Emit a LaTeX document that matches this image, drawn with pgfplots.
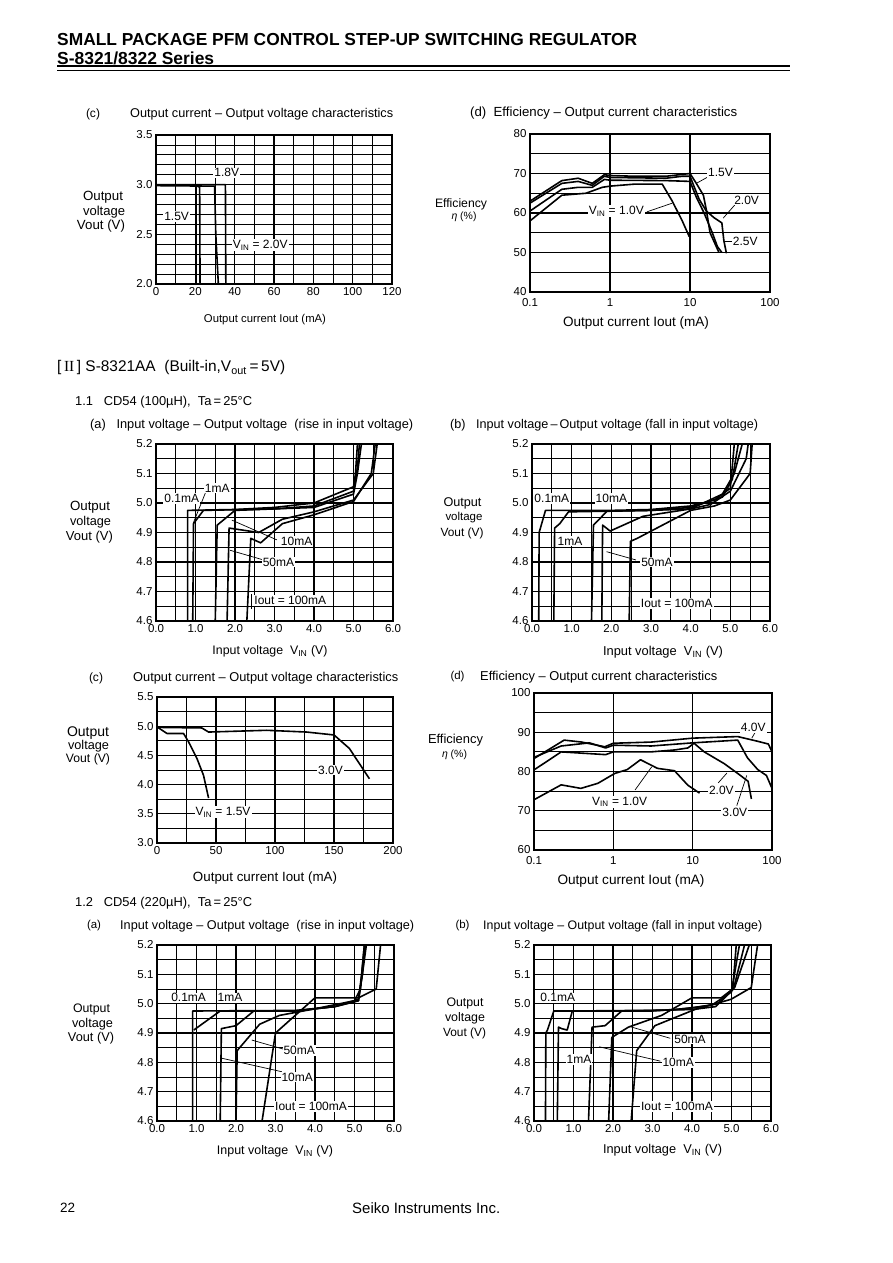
\documentclass[border=0pt]{standalone}
\usepackage{fontspec}
\setmainfont{Liberation Sans}
\newfontfamily\seriffont{Liberation Serif}
\usepackage{graphicx}
\usepackage{pgfplots}
\pgfplotsset{compat=1.18}

\newcommand\tx[5]{\node[anchor=#1,inner sep=0pt] at (#2pt,-#3pt) {\resizebox{#4pt}{!}{#5}};}
\newcommand\tickf{\fontsize{11.5}{13}\selectfont}
\newcommand\lblf{\fontsize{12}{13}\selectfont}

\tikzset{cv/.style={black,solid,line width=1.6pt,mark=none,line join=round},
  lb/.style={fill=white,inner sep=1pt,font=\lblf}, ld/.style={black,line width=0.7pt}}

\pgfplotsset{
 ds/.style={scale only axis, anchor=north west, clip mode=individual,
  axis line style={line width=1.3pt},
  tick style={draw=none},
  major grid style={line width=1.05pt,black},
  minor grid style={line width=0.8pt,black},
  tick label style={font=\tickf},
  /pgf/number format/assume math mode=true,
 },
 vv/.style={xmin=0,xmax=6,ymin=4.6,ymax=5.2,
  xtick={0,1,2,3,4,5,6}, ytick={4.6,4.7,4.8,4.9,5.0,5.1,5.2},
  minor x tick num=1, minor y tick num=1, grid=both,
  xticklabel style={/pgf/number format/.cd,fixed,fixed zerofill,precision=1},
  yticklabel style={/pgf/number format/.cd,fixed,fixed zerofill,precision=1},
 },
 logstuff/.style={xtick={0.1,1,10,100}, xticklabels={0.1,1,10,100},
  xticklabel style={yshift=-2.5pt, text height=8.5pt, text depth=0pt, anchor=north},
  xmajorgrids, ymajorgrids, yminorgrids, minor y tick num=1},
}

\begin{document}
\begin{tikzpicture}
\fill[white] (0,0) rectangle (892pt,-1263pt);
\useasboundingbox (0,0) rectangle (892pt,-1263pt);

% ---------- header ----------
\tx{west}{57}{40}{580}{\bfseries SMALL PACKAGE PFM CONTROL STEP-UP SWITCHING REGULATOR}
\tx{west}{57}{58}{157}{\bfseries S-8321/8322 Series}
\draw[line width=2pt] (57pt,-66.5pt) -- (790pt,-66.5pt);
\draw[line width=0.7pt] (57pt,-70pt) -- (790pt,-70pt);

% ---------- chart (c) top ----------
\tx{center}{93}{114}{14}{(c)}
\tx{west}{130}{114}{263}{Output current -- Output voltage characteristics}
\tx{center}{103}{197}{40}{Output}
\tx{center}{104}{212}{42}{voltage}
\tx{center}{101}{226}{48}{Vout (V)}
\tx{center}{265}{320}{122}{Output current Iout (mA)}
\begin{axis}[ds, at={(156pt,-135pt)}, width=236pt, height=149pt,
  xmin=0,xmax=120,ymin=2,ymax=3.5, xtick={0,20,40,60,80,100,120}, ytick={2,2.5,3,3.5},
  minor x tick num=1, minor y tick num=4, grid=both,
  yticklabel style={/pgf/number format/.cd,fixed,fixed zerofill,precision=1}]
\addplot[cv] coordinates {(0,3.0)(20.5,3.0)(20.5,2.0)};
\addplot[cv] coordinates {(20.5,2.99)(22.2,2.975)(22.4,2.0)};
\addplot[cv] coordinates {(0,2.99)(29.8,2.985)(30.4,2.5)(31.7,2.0)};
\addplot[cv] coordinates {(0,3.0)(35.3,3.0)(35.5,2.0)};
\node[lb] at (axis cs:36,3.12) {1.8V};
\node[lb] at (axis cs:10.5,2.68) {1.5V};
\node[lb] at (axis cs:53,2.39) {V\textsubscript{IN} = 2.0V};
\end{axis}

% ---------- chart (d) top ----------
\tx{west}{470}{113}{267}{(d)\ \ Efficiency -- Output current characteristics}
\tx{center}{461}{204}{52}{Efficiency}
\tx{center}{464}{217}{25}{\textit{η} (\%)}
\tx{center}{636}{323}{146}{Output current Iout (mA)}
\begin{axis}[ds, xmode=log, logstuff, at={(530pt,-134pt)}, width=240pt, height=158pt,
  xmin=0.1,xmax=100,ymin=40,ymax=80, ytick={40,50,60,70,80}]
\addplot[cv] coordinates {(0.1,63)(0.25,68.2)(0.4,68.8)(0.6,67.5)(0.85,69.7)(1,69.5)(2,69.3)(5,69.3)(10,70)(12,67.5)(14.7,64.5)(16,60.8)(17.8,55)(23,50)};
\addplot[cv] coordinates {(0.1,62.5)(0.25,67.5)(0.4,68)(0.6,67)(0.85,69.3)(1,69)(5,68.8)(8,69.3)(10,69.3)(13,63.5)(16,60.5)(20,58.8)(25,57.5)(26.5,53)(28.5,49.8)};
\addplot[cv] coordinates {(0.1,60.5)(0.25,66)(0.4,66.5)(0.6,66.5)(0.85,68.5)(1,68.3)(5,68.2)(10,68)(12,64)(15,60)(19,55)(22,51.5)(25,50)};
\addplot[cv] coordinates {(0.1,58)(0.25,64.5)(0.5,65)(0.8,66.5)(1,66.8)(2,67.3)(4.5,67.3)(6,63)(8,58)(9.8,54)};
\draw[ld] (axis cs:12,67.5) -- (axis cs:20,70);
\draw[ld] (axis cs:26,58.7) -- (axis cs:38,62.5);
\draw[ld] (axis cs:27,52.7) -- (axis cs:35,52.7);
\draw[ld] (axis cs:2.9,60.3) -- (axis cs:6,62.5);
\node[lb] at (axis cs:24,70.3) {1.5V};
\node[lb] at (axis cs:51,63.3) {2.0V};
\node[lb] at (axis cs:49,52.7) {2.5V};
\node[lb] at (axis cs:1.2,60.5) {V\textsubscript{IN} = 1.0V};
\end{axis}

% ---------- section II ----------
\tx{west}{57}{368}{228}{[\,{\seriffont II}\,] S-8321AA\ \ (Built-in,V\textsubscript{out}\,=\,5V)}
\tx{west}{75}{402}{177}{1.1\ \ \ CD54 (100µH),\ \ Ta\,=\,25°C}
\tx{west}{90}{425}{323}{(a)\ \ \ Input voltage -- Output voltage\ \ (rise in input voltage)}
\tx{west}{450}{425}{308}{(b)\ \ \ Input voltage\,--\,Output voltage (fall in input voltage)}

% ---------- 1.1 (a) ----------
\tx{center}{90}{507}{40}{Output}
\tx{center}{90.5}{522}{41}{voltage}
\tx{center}{89.5}{537}{47}{Vout (V)}
\tx{center}{270}{651}{115}{Input voltage\ \ V\textsubscript{IN} (V)}
\begin{axis}[ds, vv, at={(156pt,-444pt)}, width=237pt, height=177pt]
\addplot[cv] coordinates {(0.8,4.6)(0.8,4.975)(2.0,4.978)(3.0,4.985)(4.0,5.0)(5.0,5.055)(5.05,5.1)(5.1,5.2)};
\addplot[cv] coordinates {(0.93,4.6)(0.95,4.93)(1.2,4.975)(3.0,4.98)(4.0,4.99)(5.0,5.04)(5.1,5.12)(5.15,5.2)};
\addplot[cv] coordinates {(1.5,4.6)(1.55,4.925)(2.0,4.975)(3.0,4.98)(4.0,4.985)(5.0,5.03)(5.1,5.1)(5.2,5.2)};
\addplot[cv] coordinates {(1.8,4.6)(1.85,4.915)(2.6,4.9)(3.2,4.945)(4.0,4.97)(5.0,5.01)(5.5,5.1)(5.6,5.2)};
\addplot[cv] coordinates {(2.3,4.6)(2.4,4.88)(2.65,4.865)(3.2,4.93)(4.0,4.96)(5.0,5.005)(5.45,5.1)(5.55,5.2)};
\draw[ld] (axis cs:1.28,5.044) -- (axis cs:0.94,4.931);
\draw[ld] (axis cs:1.92,4.942) -- (axis cs:3.06,4.875);
\draw[ld] (axis cs:1.87,4.84) -- (axis cs:2.72,4.807);
\draw[ld] (axis cs:2.42,4.69) -- (axis cs:2.42,4.64);
\node[lb] at (axis cs:0.65,5.015) {0.1mA};
\node[lb] at (axis cs:1.55,5.05) {1mA};
\node[lb] at (axis cs:3.56,4.87) {10mA};
\node[lb] at (axis cs:3.1,4.80) {50mA};
\node[lb] at (axis cs:3.4,4.67) {Iout = 100mA};
\end{axis}

% ---------- 1.1 (b) ----------
\tx{center}{462.5}{503}{38}{Output}
\tx{center}{464}{518}{37}{voltage}
\tx{center}{462}{533}{43}{Vout (V)}
\tx{center}{663}{652}{120}{Input voltage\ \ V\textsubscript{IN} (V)}
\begin{axis}[ds, vv, at={(532pt,-444pt)}, width=238pt, height=177pt]
\addplot[cv] coordinates {(0.17,4.6)(0.18,4.9)(0.34,4.975)(2.0,4.975)(3.0,4.978)(4.0,4.99)(4.6,5.01)(5.0,5.05)(5.1,5.2)};
\addplot[cv] coordinates {(0.55,4.6)(0.57,4.915)(0.7,4.93)(0.92,4.97)(3.0,4.975)(4.0,4.985)(4.8,5.02)(5.05,5.08)(5.2,5.2)};
\addplot[cv] coordinates {(1.5,4.6)(1.55,4.925)(1.89,4.972)(3.0,4.975)(4.0,4.98)(4.8,5.03)(5.1,5.1)(5.3,5.2)};
\addplot[cv] coordinates {(1.76,4.6)(1.78,4.925)(1.97,4.905)(2.8,4.955)(4.0,4.98)(4.5,4.995)(5.0,5.04)(5.4,5.15)(5.45,5.2)};
\addplot[cv] coordinates {(2.45,4.6)(2.48,4.87)(2.65,4.88)(4.0,4.975)(4.6,4.99)(5.0,5.01)(5.5,5.1)(5.55,5.2)};
\draw[ld] (axis cs:1.88,4.835) -- (axis cs:2.62,4.807);
\draw[ld] (axis cs:2.51,4.69) -- (axis cs:2.51,4.64);
\node[lb] at (axis cs:0.5,5.015) {0.1mA};
\node[lb] at (axis cs:2.0,5.015) {10mA};
\node[lb] at (axis cs:0.96,4.87) {1mA};
\node[lb] at (axis cs:3.15,4.80) {50mA};
\node[lb] at (axis cs:3.65,4.66) {Iout = 100mA};
\end{axis}

% ---------- 1.1 (c) ----------
\tx{center}{96}{678}{14}{(c)}
\tx{west}{133}{678}{265}{Output current -- Output voltage characteristics}
\tx{center}{88}{733}{42}{Output}
\tx{center}{88.5}{746}{41}{voltage}
\tx{center}{88}{759}{44}{Vout (V)}
\tx{center}{265}{878}{144}{Output current Iout (mA)}
\begin{axis}[ds, at={(157pt,-697pt)}, width=236pt, height=146pt,
  xmin=0,xmax=200,ymin=3,ymax=5.5, xtick={0,50,100,150,200}, ytick={3,3.5,4,4.5,5,5.5},
  minor x tick num=1, minor y tick num=1, grid=both,
  yticklabel style={/pgf/number format/.cd,fixed,fixed zerofill,precision=1}]
\addplot[cv] coordinates {(0,4.99)(8.5,4.875)(22.5,4.875)(26.8,4.73)(33.8,4.45)(39.4,4.16)(43.7,3.77)};
\addplot[cv] coordinates {(0,4.98)(38,4.97)(43.7,4.9)(93,4.93)(126.8,4.9)(150,4.85)(163,4.62)(180,4.1)};
\node[lb] at (axis cs:147,4.25) {3.0V};
\node[lb] at (axis cs:56,3.53) {V\textsubscript{IN} = 1.5V};
\end{axis}

% ---------- 1.1 (d) ----------
\tx{center}{457.5}{677}{14}{(d)}
\tx{west}{480}{677}{237}{Efficiency -- Output current characteristics}
\tx{center}{455.5}{740}{55}{Efficiency}
\tx{center}{454.5}{755}{25}{\textit{η} (\%)}
\tx{center}{631}{881}{147}{Output current Iout (mA)}
\begin{axis}[ds, xmode=log, logstuff, at={(534pt,-693pt)}, width=238pt, height=157pt,
  xmin=0.1,xmax=100,ymin=60,ymax=100, ytick={60,70,80,90,100}]
\addplot[cv] coordinates {(0.1,72.8)(0.22,76.6)(0.39,75.7)(0.64,77.0)(1.04,79.5)(1.5,80.5)(2.2,83)(3.6,80.8)(5.9,80.2)(8.7,76.5)(12.2,74.5)};
\addplot[cv] coordinates {(0.1,80.4)(0.22,85)(0.8,84.3)(1,85)(3,85)(6,85.5)(8.7,86)(10.4,87.2)(14,85)(25,82)(37,79.5)(50,77.5)(55,73)};
\addplot[cv] coordinates {(0.1,83.6)(0.22,86.5)(0.5,87.3)(0.8,86)(1,86.7)(3,86.5)(10,87.3)(37,88)(49,83.5)(66,80.5)(85,79)(100,75.7)};
\addplot[cv] coordinates {(0.1,83.3)(0.24,88)(0.4,87.5)(0.78,86.3)(1,87.2)(3,87.5)(10,88.5)(37,88.9)(66,87.7)(90,87)(100,85)};
\draw[ld] (axis cs:55.6,88.5) -- (axis cs:64,90.6);
\draw[ld] (axis cs:21,77.1) -- (axis cs:27,79.6);
\draw[ld] (axis cs:36,71.3) -- (axis cs:48,79);
\draw[ld] (axis cs:1.88,75.3) -- (axis cs:3.05,81.2);
\node[lb] at (axis cs:58,91.2) {4.0V};
\node[lb] at (axis cs:23,75.2) {2.0V};
\node[lb] at (axis cs:34,69.6) {3.0V};
\node[lb] at (axis cs:1.2,72.3) {V\textsubscript{IN} = 1.0V};
\end{axis}

% ---------- 1.2 ----------
\tx{west}{75}{903}{177}{1.2\ \ \ CD54 (220µH),\ \ Ta\,=\,25°C}

% ---------- 1.2 (a) ----------
\tx{center}{94}{926}{14}{(a)}
\tx{west}{120}{926}{294}{Input voltage -- Output voltage\ \ (rise in input voltage)}
\tx{center}{91.5}{1009}{37}{Output}
\tx{center}{92.5}{1024}{41}{voltage}
\tx{center}{91}{1038}{46}{Vout (V)}
\tx{center}{275}{1151}{116}{Input voltage\ \ V\textsubscript{IN} (V)}
\begin{axis}[ds, vv, at={(157pt,-945pt)}, width=237pt, height=176pt]
\addplot[cv] coordinates {(0.9,4.6)(0.9,4.975)(3.5,4.977)(4.5,4.99)(5.1,5.01)(5.18,5.1)(5.25,5.2)};
\addplot[cv] coordinates {(0.93,4.91)(1.6,4.975)(3.5,4.975)(4.5,4.99)(5.1,5.01)(5.2,5.1)(5.27,5.2)};
\addplot[cv] coordinates {(1.6,4.6)(1.63,4.915)(2.0,4.925)(2.45,4.975)(3.5,4.975)(4.5,4.99)(5.1,5.015)(5.2,5.1)(5.3,5.2)};
\addplot[cv] coordinates {(2.0,4.6)(2.03,4.84)(2.6,4.93)(3.1,4.96)(3.9,4.98)(5.0,5.01)(5.15,5.05)(5.25,5.2)};
\addplot[cv] coordinates {(2.66,4.6)(3.0,4.9)(3.5,4.96)(4.0,5.02)(5.1,5.02)(5.55,5.05)(5.66,5.2)};
\draw[ld] (axis cs:2.40,4.876) -- (axis cs:3.28,4.842);
\draw[ld] (axis cs:1.64,4.814) -- (axis cs:3.16,4.768);
\node[lb] at (axis cs:0.8,5.02) {0.1mA};
\node[lb] at (axis cs:1.85,5.02) {1mA};
\node[lb] at (axis cs:3.6,4.84) {50mA};
\node[lb] at (axis cs:3.55,4.75) {10mA};
\node[lb] at (axis cs:3.9,4.65) {Iout = 100mA};
\end{axis}

% ---------- 1.2 (b) ----------
\tx{center}{462.5}{926}{14}{(b)}
\tx{west}{483}{926}{279}{Input voltage -- Output voltage (fall in input voltage)}
\tx{center}{465}{1003}{37}{Output}
\tx{center}{465}{1018}{40}{voltage}
\tx{center}{464.5}{1033}{43}{Vout (V)}
\tx{center}{662.5}{1150}{119}{Input voltage\ \ V\textsubscript{IN} (V)}
\begin{axis}[ds, vv, at={(534pt,-945pt)}, width=237pt, height=176pt]
\addplot[cv] coordinates {(0.29,4.6)(0.3,4.9)(0.34,4.91)(0.5,4.975)(3.0,4.975)(4.0,4.985)(4.66,5.0)(5.03,5.05)(5.12,5.2)};
\addplot[cv] coordinates {(0.59,4.6)(0.62,4.92)(0.7,4.915)(0.84,4.91)(0.97,4.975)(3.5,4.978)(4.5,4.995)(5.0,5.04)(5.2,5.2)};
\addplot[cv] coordinates {(1.38,4.6)(1.47,4.92)(1.8,4.925)(2.22,4.975)(4.0,4.98)(4.6,4.99)(5.05,5.05)(5.33,5.2)};
\addplot[cv] coordinates {(1.89,4.6)(1.97,4.885)(2.39,4.92)(3.23,4.96)(4.0,5.02)(4.74,5.02)(5.08,5.055)(5.45,5.2)};
\addplot[cv] coordinates {(2.46,4.6)(2.6,4.84)(3.06,4.925)(4.07,4.98)(4.99,5.015)(5.5,5.055)(5.66,5.2)};
\draw[ld] (axis cs:2.45,4.921) -- (axis cs:3.45,4.882);
\draw[ld] (axis cs:1.65,4.853) -- (axis cs:3.2,4.804);
\node[lb] at (axis cs:0.6,5.02) {0.1mA};
\node[lb] at (axis cs:1.14,4.81) {1mA};
\node[lb] at (axis cs:3.95,4.88) {50mA};
\node[lb] at (axis cs:3.65,4.80) {10mA};
\node[lb] at (axis cs:3.62,4.65) {Iout = 100mA};
\end{axis}

% ---------- footer ----------
\tx{west}{60}{1208}{15}{22}
\tx{west}{352}{1208}{148}{Seiko Instruments Inc.}
\end{tikzpicture}
\end{document}
